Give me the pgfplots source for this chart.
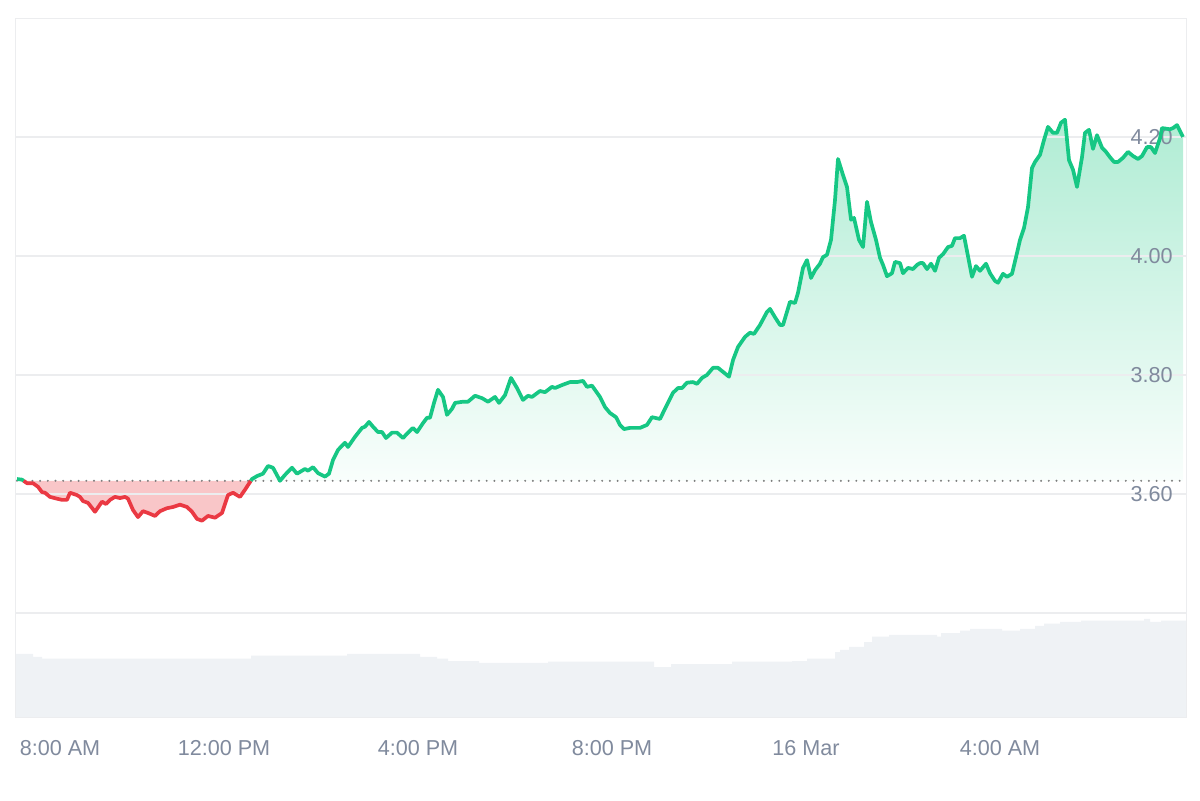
\documentclass[border=0pt]{standalone}
\usepackage{fontspec}
\setmainfont{Liberation Sans}
\usepackage{pgfplots}
\usepackage{pgfplotstable}
\pgfplotsset{compat=1.18}

\definecolor{upgreen}{RGB}{22,199,132}
\definecolor{downred}{RGB}{234,57,67}
\definecolor{redfill}{RGB}{249,198,200}
\definecolor{gtop}{RGB}{176,236,212}
\definecolor{gbot}{RGB}{249,254,252}
\definecolor{volc}{RGB}{239,242,245}
\definecolor{txtgray}{RGB}{128,138,157}
\definecolor{gridc}{RGB}{236,237,239}
\definecolor{dotc}{RGB}{125,125,125}

% price, x in chart pixels (4 h = 194 px), y in USD
\pgfplotstableread{
x y
17 3.625
22 3.624
23.7 3.622
27 3.618
33 3.618
38 3.612
42 3.603
45 3.602
50 3.595
57 3.592
62 3.590
67 3.590
70 3.602
77 3.598
80 3.595
83 3.588
88 3.585
95 3.570
102 3.587
106 3.583
110 3.590
115 3.595
120 3.593
125 3.595
128 3.592
133 3.573
138 3.561
143 3.571
148 3.568
155 3.563
160 3.571
167 3.576
173 3.578
180 3.582
187 3.578
192 3.570
197 3.558
202 3.555
208 3.563
215 3.560
222 3.568
228 3.598
233 3.602
240 3.595
245 3.607
250.8 3.622
252 3.625
257 3.630
263 3.634
268 3.647
273 3.644
280 3.622
285 3.632
292 3.644
297 3.634
305 3.642
308 3.639
313 3.645
318 3.635
325 3.629
329 3.634
333 3.657
338 3.674
345 3.686
348 3.679
355 3.696
362 3.711
365 3.713
369 3.721
373 3.713
378 3.704
382 3.704
386 3.694
392 3.703
397 3.703
403 3.694
408 3.703
413 3.711
417 3.704
423 3.719
427 3.728
430 3.728
434 3.753
438 3.775
443 3.763
447 3.733
452 3.743
455 3.753
463 3.755
468 3.755
475 3.765
482 3.761
488 3.755
495 3.763
499 3.753
505 3.766
511 3.795
517 3.778
523 3.758
528 3.765
532 3.763
540 3.773
545 3.771
552 3.780
555 3.778
562 3.783
570 3.788
577 3.788
583 3.790
587 3.780
592 3.782
600 3.763
605 3.746
610 3.736
616 3.729
620 3.716
624 3.709
630 3.711
640 3.711
647 3.716
652 3.729
660 3.726
667 3.750
673 3.770
678 3.778
682 3.778
687 3.787
693 3.788
697 3.785
702 3.795
707 3.800
713 3.812
718 3.812
729 3.797
733 3.825
738 3.847
745 3.864
750 3.871
754 3.869
760 3.884
767 3.906
770 3.911
775 3.897
780 3.884
783 3.884
790 3.923
795 3.921
798 3.938
803 3.980
807 3.993
811 3.963
815 3.976
820 3.987
823 3.998
827 4.002
831 4.027
835 4.094
838 4.163
843 4.136
847 4.116
851 4.061
854 4.064
859 4.027
863 4.015
867 4.091
871 4.057
876 4.027
880 3.997
883 3.985
887 3.966
892 3.971
895 3.990
900 3.988
903 3.971
908 3.980
913 3.978
917 3.985
920 3.988
923 3.988
927 3.978
931 3.987
935 3.975
939 3.997
943 4.003
948 4.015
952 4.017
955 4.030
960 4.030
964 4.034
972 3.965
976 3.983
980 3.975
986 3.987
990 3.971
995 3.958
998 3.955
1003 3.970
1007 3.965
1012 3.970
1017 4.005
1020 4.027
1024 4.047
1028 4.082
1032 4.148
1035 4.158
1040 4.170
1044 4.195
1048 4.217
1053 4.207
1057 4.207
1061 4.224
1065 4.229
1069 4.161
1073 4.145
1077 4.116
1082 4.166
1085 4.207
1089 4.212
1093 4.180
1097 4.203
1102 4.182
1106 4.175
1110 4.166
1114 4.158
1118 4.158
1123 4.165
1128 4.175
1133 4.168
1138 4.163
1142 4.168
1147 4.183
1151 4.183
1155 4.173
1160 4.198
1162 4.215
1170 4.213
1173 4.215
1177 4.220
1183 4.200
}\price

\begin{document}
\begin{tikzpicture}
\path (0,0) rectangle (600pt,400pt);
\begin{axis}[
  set layers,
  at={(7.5pt,41.5pt)}, anchor=south west,
  scale only axis, width=585.5pt, height=349.5pt,
  xmin=15, xmax=1186, ymin=3.225, ymax=4.40,
  axis line style={draw=gridc},
  ymajorgrids, grid style={draw=gridc, line width=0.7pt},
  major tick length=0pt,
  ytick={3.4,3.6,3.8,4.0,4.2},
  yticklabels={,3.60,3.80,4.00,4.20},
  yticklabel pos=right,
  xtick={60,224,418,612,806,1000},
  xticklabels={8:00 AM,12:00 PM,4:00 PM,8:00 PM,16 Mar,4:00 AM},
  ticklabel style={font=\fontsize{10.8}{13}\selectfont, text=txtgray},
  yticklabel style={anchor=east, inner sep=0pt, xshift=-6.5pt},
  xticklabel style={anchor=north, inner sep=0pt, yshift=-11.5pt},
  /pgf/number format/assume math mode=true,
]
% volume
\addplot[on layer=axis background, fill=volc, draw=none, const plot mark left] coordinates {
  (15,3.225) (15,3.331) (33,3.326) (42,3.323) (251,3.328) (347,3.331) (420,3.326)
  (437,3.323) (448,3.319) (479,3.316) (548,3.318) (654,3.309) (671,3.314)
  (732,3.318) (792,3.319) (807,3.323) (835,3.334) (840,3.338) (849,3.343)
  (864,3.351) (872,3.360) (889,3.363) (937,3.360) (941,3.366) (960,3.370)
  (970,3.373) (1002,3.370) (1020,3.373) (1035,3.378) (1044,3.382) (1060,3.385)
  (1081,3.387) (1144,3.390) (1150,3.385) (1161,3.387) (1186,3.387) (1186,3.225)
} -- cycle;

% area above the opening price (gradient) and below it (red)
\addplot[on layer=axis background, top color=gtop, bottom color=gbot, draw=none,
  restrict x to domain=250.79:1190] table {\price} -- (axis cs:1183,3.622) -- cycle;
\addplot[on layer=axis background, fill=redfill, draw=none,
  restrict x to domain=23.69:250.81] table {\price} -- cycle;

% baseline (opening price)
\addplot[draw=dotc, line width=1.1pt, line cap=round, dash pattern=on 0pt off 3.85pt]
  coordinates {(17,3.622) (1186,3.622)};

% price line
\addplot[upgreen, line width=1.85pt, line join=round, restrict x to domain=17:23.71] table {\price};
\addplot[downred, line width=1.85pt, line join=round, restrict x to domain=23.69:250.81] table {\price};
\addplot[upgreen, line width=1.85pt, line join=round, restrict x to domain=250.79:1190] table {\price};
\end{axis}
\end{tikzpicture}
\end{document}
